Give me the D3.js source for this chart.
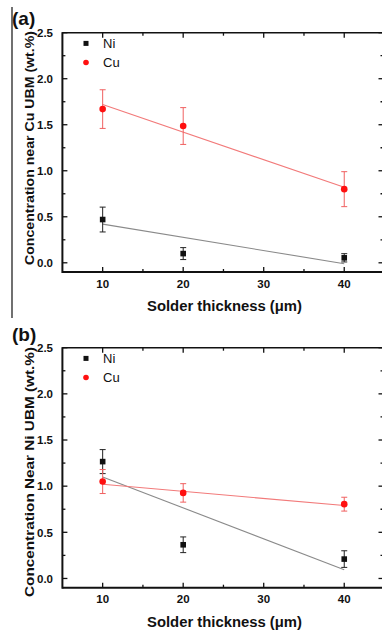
<!DOCTYPE html>
<html><head><meta charset="utf-8">
<script src="https://cdn.jsdelivr.net/npm/d3@7"></script>
<style>
html,body{margin:0;padding:0;background:#fff;}
svg{display:block;}
text{font-family:"Liberation Sans",Arial,sans-serif;font-weight:bold;fill:#111;}
text.leg{font-weight:normal;}
</style></head>
<body>
<svg id="c" width="382" height="633"></svg>
<script>
// ---- data ----
const thickness = [10, 20, 40];
const fitX = [10, 40];
const xTicks = [10, 20, 30, 40];
const xMinorTicks = [15, 25, 35];
const yTicks = [0.0, 0.5, 1.0, 1.5, 2.0, 2.5];
const yMinorTicks = [0.25, 0.75, 1.25, 1.75, 2.25];
const seriesNames = ["Ni", "Cu"];

// panel (a): near Cu UBM
const niA = [0.47, 0.10, 0.054];
const niAErr = [0.135, 0.065, 0.045];
const cuA = [1.67, 1.486, 0.80];
const cuAErr = [0.21, 0.20, 0.19];
const niAFit = [0.42, -0.01];
const cuAFit = [1.72, 0.82];

// panel (b): near Ni UBM
const niB = [1.266, 0.365, 0.21];
const niBErr = [0.13, 0.085, 0.09];
const cuB = [1.05, 0.927, 0.805];
const cuBErr = [0.13, 0.10, 0.075];
const niBFit = [1.10, 0.094];
const cuBFit = [1.02, 0.79];

const svg = d3.select("#c");

// artifact vertical rule along the left edge
svg.append("line").attr("x1",12).attr("x2",12).attr("y1",7).attr("y2",318)
  .attr("stroke","#111").attr("stroke-width",1.2);

function panel(o){
  const g = svg.append("g");
  const x = d3.scaleLinear().domain([5,45]).range([62.4,384.5]);
  const y = d3.scaleLinear().domain([-0.1,2.5]).range([o.bottom,o.top]);
  const X0=x.range()[0], X1=x.range()[1], Y0=o.bottom, Y1=o.top;

  // fit lines
  const line = d3.line().x((d,i)=>x(fitX[i])).y(d=>y(d));
  g.append("path").datum(o.niFit).attr("d",line).attr("fill","none")
    .attr("stroke","#8a8a8a").attr("stroke-width",1.1);
  g.append("path").datum(o.cuFit).attr("d",line).attr("fill","none")
    .attr("stroke","#f27a7a").attr("stroke-width",1.1);

  function errs(vals, err, col){
    const eg = g.append("g").attr("stroke",col).attr("stroke-width",1);
    thickness.forEach((t,i)=>{
      const cx=x(t), a=y(vals[i]+err[i]), b=y(vals[i]-err[i]);
      eg.append("line").attr("x1",cx).attr("x2",cx).attr("y1",a).attr("y2",b);
      eg.append("line").attr("x1",cx-3).attr("x2",cx+3).attr("y1",a).attr("y2",a);
      eg.append("line").attr("x1",cx-3).attr("x2",cx+3).attr("y1",b).attr("y2",b);
    });
  }
  // Ni
  errs(o.ni, o.niErr, "#222");
  g.selectAll(null).data(o.ni).enter().append("rect")
    .attr("x",(d,i)=>x(thickness[i])-2.8).attr("y",d=>y(d)-2.8)
    .attr("width",5.6).attr("height",5.6).attr("fill","#111");
  // Cu
  errs(o.cu, o.cuErr, "#f06060");
  g.selectAll(null).data(o.cu).enter().append("circle")
    .attr("cx",(d,i)=>x(thickness[i])).attr("cy",d=>y(d)).attr("r",3.3)
    .attr("fill","#ff1010");

  // frame
  const ax = g.append("g").attr("stroke","#111").attr("fill","none");
  ax.append("line").attr("x1",X0).attr("x2",X1).attr("y1",Y0).attr("y2",Y0).attr("stroke-width",2);
  ax.append("line").attr("x1",X0).attr("x2",X0).attr("y1",Y0+1).attr("y2",Y1-0.5).attr("stroke-width",2);
  ax.append("line").attr("x1",X0).attr("x2",X1).attr("y1",Y1).attr("y2",Y1).attr("stroke-width",1.6);
  ax.append("line").attr("x1",X1-1).attr("x2",X1-1).attr("y1",Y0).attr("y2",Y1).attr("stroke-width",1.6);

  // ticks (inward)
  xTicks.forEach(t=>{
    ax.append("line").attr("x1",x(t)).attr("x2",x(t)).attr("y1",Y0).attr("y2",Y0-5).attr("stroke-width",1.3);
    ax.append("line").attr("x1",x(t)).attr("x2",x(t)).attr("y1",Y1).attr("y2",Y1+5).attr("stroke-width",1.3);
  });
  xMinorTicks.forEach(t=>{
    ax.append("line").attr("x1",x(t)).attr("x2",x(t)).attr("y1",Y0).attr("y2",Y0-3).attr("stroke-width",1.3);
    ax.append("line").attr("x1",x(t)).attr("x2",x(t)).attr("y1",Y1).attr("y2",Y1+3).attr("stroke-width",1.3);
  });
  yTicks.forEach(t=>{
    ax.append("line").attr("x1",X0).attr("x2",X0+5).attr("y1",y(t)).attr("y2",y(t)).attr("stroke-width",1.3);
    ax.append("line").attr("x1",X1-6).attr("x2",X1-1).attr("y1",y(t)).attr("y2",y(t)).attr("stroke-width",1.3);
  });
  yMinorTicks.forEach(t=>{
    ax.append("line").attr("x1",X0).attr("x2",X0+3).attr("y1",y(t)).attr("y2",y(t)).attr("stroke-width",1.3);
    ax.append("line").attr("x1",X1-4).attr("x2",X1-1).attr("y1",y(t)).attr("y2",y(t)).attr("stroke-width",1.3);
  });

  // tick labels
  g.selectAll(null).data(yTicks).enter().append("text")
    .attr("x",53).attr("y",d=>y(d)+4.2).attr("text-anchor","end")
    .attr("font-size",11.5).text(d=>d.toFixed(1));
  g.selectAll(null).data(xTicks).enter().append("text")
    .attr("x",d=>x(d)).attr("y",Y0+15.5).attr("text-anchor","middle")
    .attr("font-size",11.5).text(d=>d);

  // titles
  g.append("text").attr("x",224.5).attr("y",Y0+39).attr("text-anchor","middle")
    .attr("font-size",14).attr("textLength",155).attr("lengthAdjust","spacingAndGlyphs")
    .text("Solder thickness (\u03bcm)");
  g.append("text").attr("transform",`translate(33.5,${o.ycenter}) rotate(-90)`)
    .attr("text-anchor","middle").attr("font-size",13.5)
    .attr("textLength",o.ylen).attr("lengthAdjust","spacingAndGlyphs").text(o.ytitle);
  g.append("text").attr("x",12).attr("y",o.labelY).attr("font-size",19).text(o.label);

  // legend
  const lg = g.append("g");
  lg.append("rect").attr("x",86-2.5).attr("y",Y1+10.7-2.5).attr("width",5).attr("height",5).attr("fill","#111");
  lg.append("text").attr("class","leg").attr("x",103).attr("y",Y1+15.5).attr("font-size",13).text(seriesNames[0]);
  lg.append("circle").attr("cx",86).attr("cy",Y1+29.8).attr("r",2.8).attr("fill","#ff1010");
  lg.append("text").attr("class","leg").attr("x",103).attr("y",Y1+34.6).attr("font-size",13).text(seriesNames[1]);
}

panel({top:32.7,bottom:272,ni:niA,niErr:niAErr,cu:cuA,cuErr:cuAErr,niFit:niAFit,cuFit:cuAFit,
  ytitle:"Concentration near Cu UBM (wt.%)",ycenter:148,ylen:234,label:"(a)",labelY:25});
panel({top:347.7,bottom:587.7,ni:niB,niErr:niBErr,cu:cuB,cuErr:cuBErr,niFit:niBFit,cuFit:cuBFit,
  ytitle:"Concentration Near Ni UBM (wt.%)",ycenter:472,ylen:250,label:"(b)",labelY:341});
</script>
</body></html>
